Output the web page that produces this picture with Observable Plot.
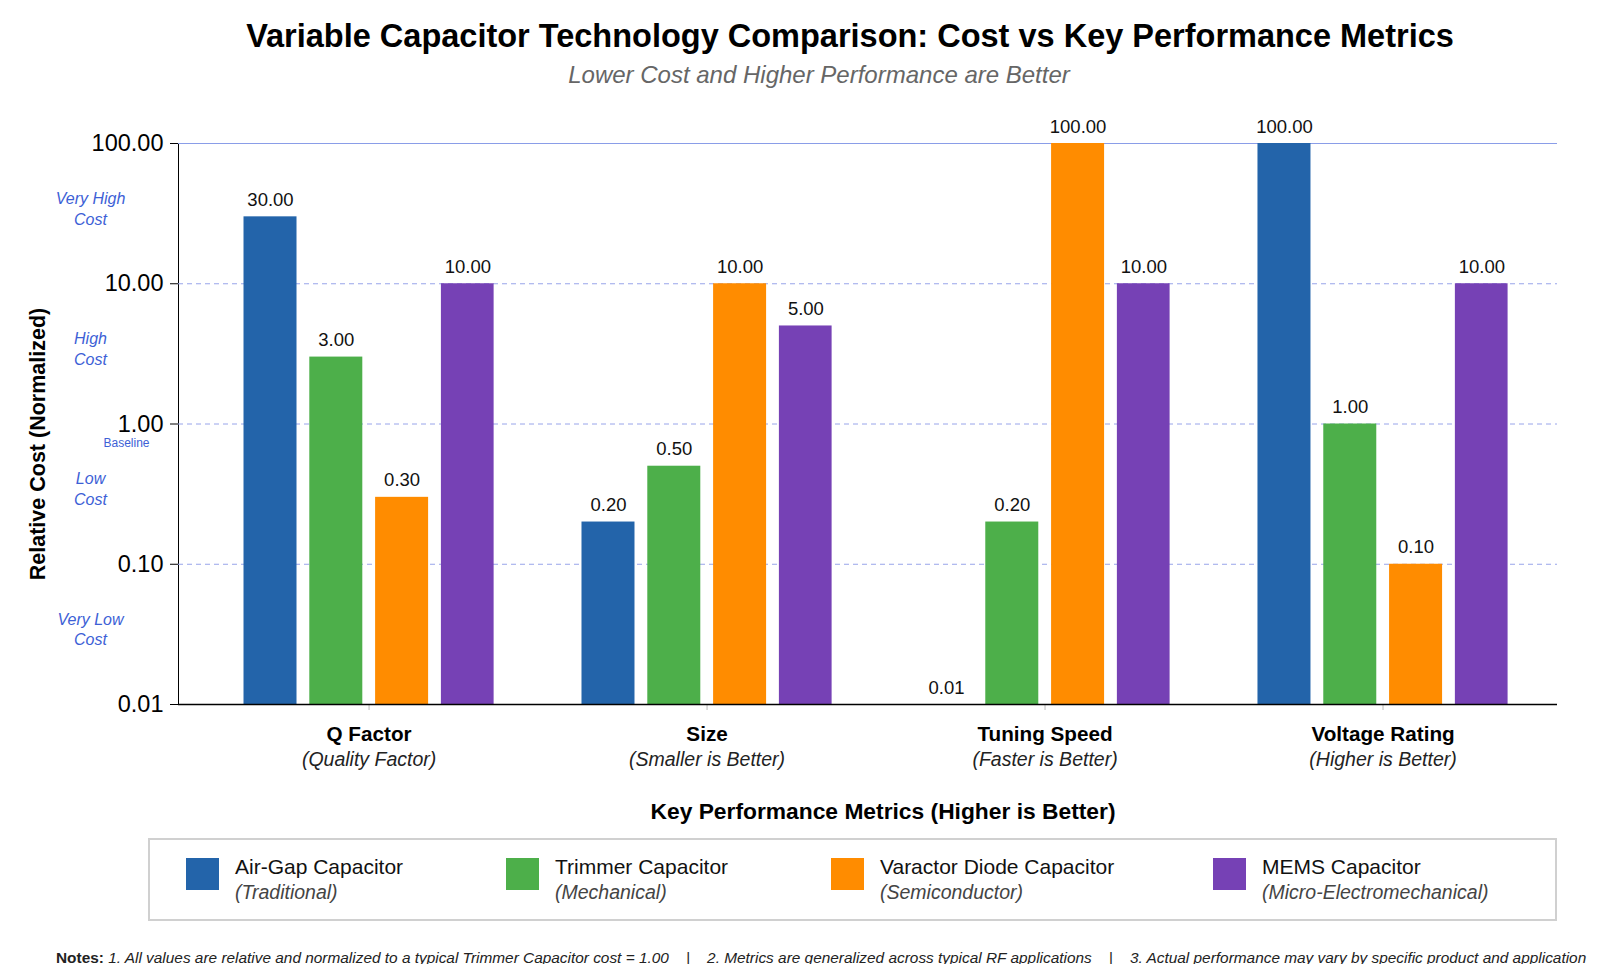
<!DOCTYPE html>
<html>
<head>
<meta charset="utf-8">
<script src="https://cdn.jsdelivr.net/npm/d3@7"></script>
<script src="https://cdn.jsdelivr.net/npm/@observablehq/plot@0.6"></script>
<style>
  html, body { margin: 0; padding: 0; background: #fff; }
  body { width: 1599px; height: 964px; overflow: hidden; position: relative;
         font-family: "Liberation Sans", Arial, sans-serif; color: #111; }
  #title { position: absolute; top: 16px; left: 0; width: 1700px; text-align: center;
           font-size: 32.5px; font-weight: bold; line-height: 40px; color: #000; }
  #subtitle { position: absolute; top: 60px; left: 0; width: 1638px; text-align: center;
              font-size: 24px; font-style: italic; color: #666; line-height: 30px; }
  #chart { position: absolute; top: 100px; left: 0; }
  #legend { position: absolute; top: 838px; left: 148px; width: 1409px; height: 83px;
            border: 2px solid #d0d0d0; box-sizing: border-box; }
  .item { position: absolute; top: 0; height: 79px; display: flex; align-items: center; }
  .sw { width: 33px; height: 32px; margin-right: 16px; margin-top: -11px; }
  .nm { font-size: 21px; color: #111; line-height: 25px; }
  .nt { font-size: 19.5px; font-style: italic; color: #444; line-height: 26px; }
  #notes { position: absolute; top: 948px; left: 56px; font-size: 15.4px; color: #222;
           white-space: pre; font-style: italic; line-height: 19px; }
  #notes b { font-style: normal; }
  g[aria-label^="y-axis"] text { font-size: 23.5px; fill: #000; }
  g[aria-label^="y-axis"] { color: #000; }
  g[aria-label^="x-axis"] { color: #bbb; }
</style>
</head>
<body>
<div id="title"></div>
<div id="subtitle"></div>
<div id="chart"></div>
<div id="legend"></div>
<div id="notes"></div>
<script>
// ---- data ----
const titleText = "Variable Capacitor Technology Comparison: Cost vs Key Performance Metrics";
const subtitleText = "Lower Cost and Higher Performance are Better";
const metrics = ["Q Factor", "Size", "Tuning Speed", "Voltage Rating"];
const metricNotes = ["(Quality Factor)", "(Smaller is Better)", "(Faster is Better)", "(Higher is Better)"];
const series = ["Air-Gap Capacitor", "Trimmer Capacitor", "Varactor Diode Capacitor", "MEMS Capacitor"];
const seriesNotes = ["(Traditional)", "(Mechanical)", "(Semiconductor)", "(Micro-Electromechanical)"];
const airGap = [30, 0.2, 0.01, 100];
const trimmer = [3, 0.5, 0.2, 1];
const varactor = [0.3, 10, 100, 0.1];
const mems = [10, 5, 10, 10];
const colors = ["#2364aa", "#4daf4a", "#ff8c00", "#7641b5"];
const yTicks = [0.01, 0.1, 1, 10, 100];
const costBands = ["Very High\nCost", "High\nCost", "Low\nCost", "Very Low\nCost"];
const baselineNote = "Baseline";
const yTitle = "Relative Cost (Normalized)";
const xTitle = "Key Performance Metrics (Higher is Better)";
const notesParts = [
  "1. All values are relative and normalized to a typical Trimmer Capacitor cost = 1.00",
  "2. Metrics are generalized across typical RF applications",
  "3. Actual performance may vary by specific product and application"
];

// ---- build ----
document.getElementById("title").textContent = titleText;
document.getElementById("subtitle").textContent = subtitleText;

const seriesValues = [airGap, trimmer, varactor, mems];
const rows = series.flatMap((s, i) => metrics.map((m, j) => ({metric: m, series: s, si: i, value: seriesValues[i][j]})));

const W = 1599, H = 730;
const mL = 178, mR = 42, mT = 43, mB = 126;
const padIn = 0.26, padOut = 0.17;
const step = (W - mL - mR) / (metrics.length - padIn + 2 * padOut);
const bw = step * (1 - padIn);
const barW = 53, pitch = 65.8;

// cost band label positions: geometric midpoints between decade ticks
const bandRows = costBands.map((label, k) => ({label, pos: Math.sqrt(yTicks[4 - k] * yTicks[3 - k])}));

const marks = [];
marks.push(Plot.ruleY(yTicks.slice(1, 4), {stroke: "#98a4ea", strokeDasharray: "5,4", strokeWidth: 1}));
marks.push(Plot.ruleY([yTicks[4]], {stroke: "#8a9de8", strokeWidth: 1.2}));
series.forEach((s, i) => {
  const left = i * pitch;
  marks.push(Plot.barY(rows.filter(d => d.si === i), {
    x: "metric", y1: yTicks[0], y2: "value", fill: colors[i],
    insetLeft: left, insetRight: Math.max(0, bw - barW - left)
  }));
  marks.push(Plot.text(rows.filter(d => d.si === i), {
    x: "metric", y: "value", text: d => d.value.toFixed(2),
    dx: left + barW / 2 - bw / 2, dy: -11, lineAnchor: "bottom",
    fontSize: 18.5, fill: "#111"
  }));
});
marks.push(Plot.ruleY([yTicks[0]], {stroke: "#000", strokeWidth: 1.5}));
marks.push(Plot.text(bandRows, {
  y: "pos", text: "label", frameAnchor: "left", dx: -88, dy: -6, textAnchor: "middle",
  fill: "#3d5fd6", fontStyle: "italic", fontSize: 16, lineHeight: 1.3
}));
marks.push(Plot.text([baselineNote], {
  y: () => yTicks[2], text: d => d, frameAnchor: "left", dx: -52, dy: 19,
  fill: "#3d5fd6", fontSize: 12, textAnchor: "middle"
}));
marks.push(Plot.text([yTitle], {
  frameAnchor: "left", text: d => d, dx: -140, dy: 20, rotate: -90, textAnchor: "middle",
  fontWeight: "bold", fontSize: 21.5, fill: "#000"
}));
marks.push(Plot.text(metrics, {
  x: d => d, text: d => d, frameAnchor: "bottom", dy: 36,
  fontWeight: "bold", fontSize: 20.7, fill: "#000"
}));
marks.push(Plot.text(metrics.map((m, j) => ({m, n: metricNotes[j]})), {
  x: "m", text: "n", frameAnchor: "bottom", dy: 61,
  fontStyle: "italic", fontSize: 19.5, fill: "#222"
}));
marks.push(Plot.text([xTitle], {
  text: d => d, frameAnchor: "bottom", dy: 114, dx: 15,
  fontWeight: "bold", fontSize: 22.8, fill: "#000"
}));

const chart = Plot.plot({
  width: W, height: H,
  marginLeft: mL, marginRight: mR, marginTop: mT, marginBottom: mB,
  style: {fontFamily: "Liberation Sans, Arial, sans-serif", background: "#fff", color: "#000", overflow: "visible"},
  x: {domain: metrics, paddingInner: padIn, paddingOuter: padOut, align: 0.57, round: false,
      tickFormat: () => "", tickSize: 6, label: null},
  y: {type: "log", domain: [yTicks[0], yTicks[4]], ticks: yTicks, tickFormat: d => d.toFixed(2),
      tickSize: 8, tickPadding: 7, label: null, line: true},
  marks
});
document.getElementById("chart").appendChild(chart);

// legend
const legend = document.getElementById("legend");
const itemLeft = [36, 356, 681, 1063];
series.forEach((s, i) => {
  const it = document.createElement("div"); it.className = "item"; it.style.left = itemLeft[i] + "px";
  const sw = document.createElement("div"); sw.className = "sw"; sw.style.background = colors[i];
  const tx = document.createElement("div");
  const nm = document.createElement("div"); nm.className = "nm"; nm.textContent = s;
  const nt = document.createElement("div"); nt.className = "nt"; nt.textContent = seriesNotes[i];
  tx.appendChild(nm); tx.appendChild(nt);
  it.appendChild(sw); it.appendChild(tx);
  legend.appendChild(it);
});

// notes
const notes = document.getElementById("notes");
const b = document.createElement("b"); b.textContent = "Notes: ";
notes.appendChild(b);
notes.appendChild(document.createTextNode(notesParts.join("    |    ")));
</script>
</body>
</html>
